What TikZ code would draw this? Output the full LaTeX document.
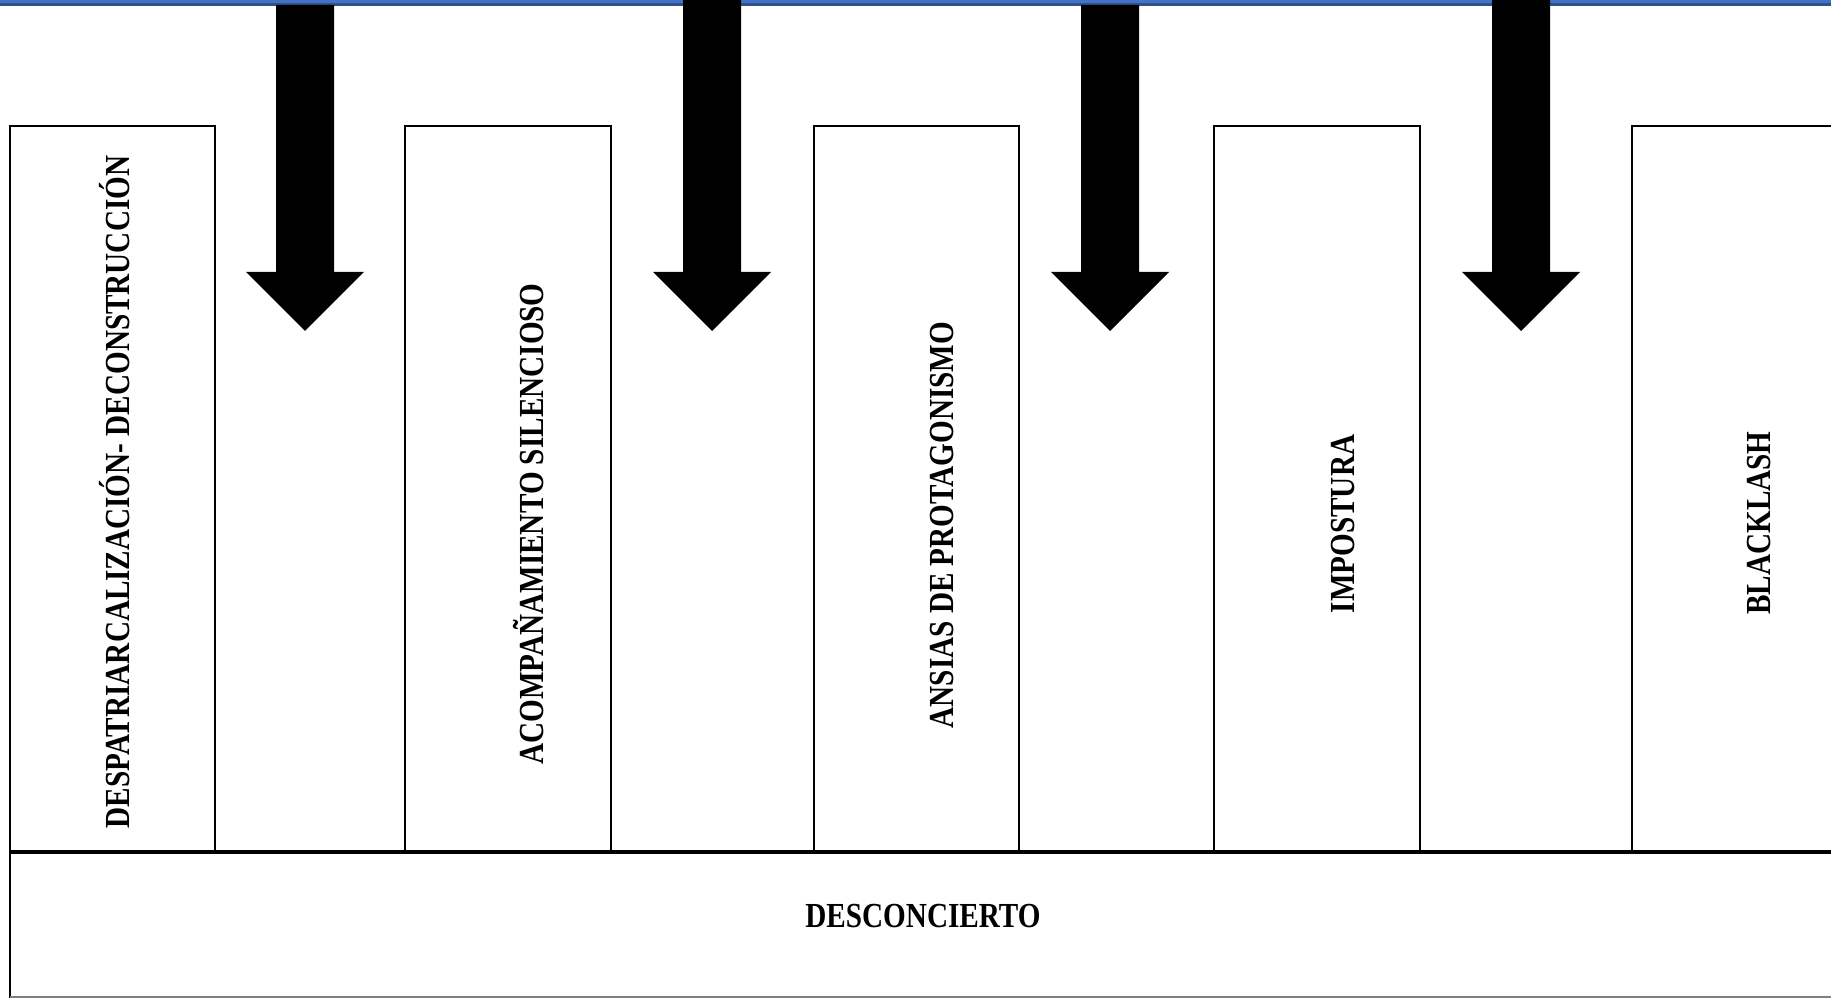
\documentclass[tikz,border=0pt]{standalone}
\usepackage{fontspec}
\setmainfont{Liberation Serif}[FakeStretch=0.83]
\definecolor{bandblue}{HTML}{4472C4}
\definecolor{banddark}{HTML}{2F528F}

\begin{document}
\begin{tikzpicture}[x=0.01cm, y=-0.01cm,
    lbl/.style={font=\bfseries\fontsize{10}{12}\selectfont, inner sep=0pt},
    vlbl/.style={lbl, rotate=90, anchor=base}]
    \useasboundingbox (0,0) rectangle (1831,998);
    \clip (0,0) rectangle (1831,998);
    \fill[white] (0,0) rectangle (1831,998);
    % blue band on top
    \fill[bandblue] (0,0) rectangle (1831,4);
    \draw[banddark, line width=0.7pt] (0,4.5) -- (1831,4.5);
    % block arrows
    \foreach \cx/\top in {305/5, 712/0, 1110/5, 1521/0}
	\fill (\cx-29,\top) -- (\cx+29,\top) -- (\cx+29,272) -- (\cx+59,272)
	-- (\cx,331) -- (\cx-59,272) -- (\cx-29,272) -- cycle;
    % columns
    \foreach \xa/\xb in {10/215, 405/611, 814/1019, 1214/1420, 1632/1845}
	\draw[line width=0.6pt] (\xa,852) -- (\xa,126) -- (\xb,126) -- (\xb,852);
    % bottom box
    \draw[line width=0.6pt] (10,998) -- (10,852);
    \draw[line width=0.9pt] (10,852) -- (1845,852);
    \draw[gray] (10,997) -- (1845,997);
    \node[vlbl] (despat) at (129,492) {DESPATRIARCALIZACIÓN- DECONSTRUCCIÓN};
    \node[vlbl] (acomp) at (543,524) {ACOMPAÑAMIENTO SILENCIOSO};
    \node[vlbl] (ansias) at (953,525) {ANSIAS DE PROTAGONISMO};
    \node[vlbl] (impost) at (1354,524) {IMPOSTURA};
    \node[vlbl] (black) at (1770,523) {BLACKLASH};
    \node[lbl, anchor=base] (descon) at (923,927) {DESCONCIERTO};
\end{tikzpicture}
\end{document}
